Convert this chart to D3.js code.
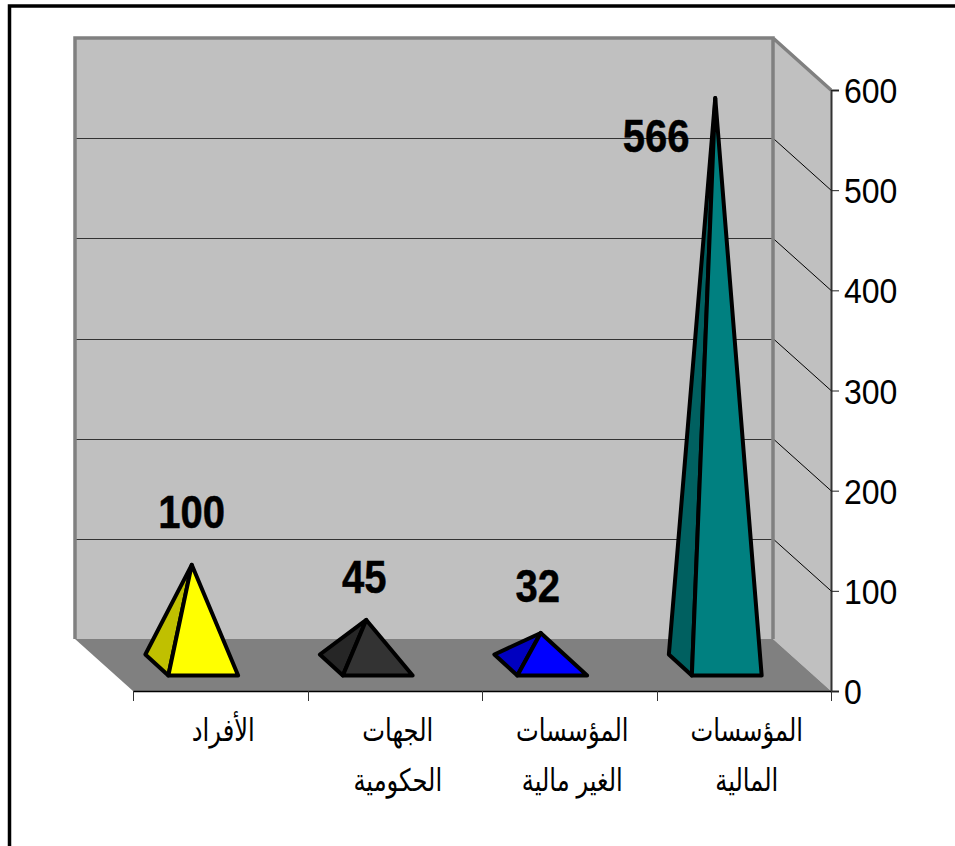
<!DOCTYPE html>
<html>
<head>
<meta charset="utf-8">
<script src="https://cdn.jsdelivr.net/npm/d3@7/dist/d3.min.js"></script>
<style>
    html, body { margin: 0; padding: 0; background: #fff; overflow: hidden; }
    svg { display: block; }
</style>
</head>
<body>
<svg id="chart" width="955" height="846"></svg>
<script>
// 数据
const categories = ["الأفراد", "الجهات الحكومية", "المؤسسات الغير مالية", "المؤسسات المالية"];
const categoryLines = [["الأفراد"], ["الجهات", "الحكومية"], ["المؤسسات", "الغير مالية"], ["المؤسسات", "المالية"]];
const values = [100, 45, 32, 566];
const yTicks = [0, 100, 200, 300, 400, 500, 600];
const frontColors = ["#ffff00", "#333333", "#0000ff", "#008080"];
const sideColors = ["#c0c000", "#262626", "#0000c0", "#006060"];

// 数值标签相对塔尖的偏移
const labelNudge = [[0, -37], [-2, -27], [-3, -31], [-59, 54]];

// 三维盒子的进深
const DEPTH_X = 58;
const DEPTH_Y = 52;
const LEFT = 133, RIGHT = 831, TOP = 90, BOTTOM = 691;

const svg = d3.select("#chart");

const x = d3.scaleBand().domain(categories).range([LEFT, RIGHT]);
const y = d3.scaleLinear().domain([0, 600]).range([BOTTOM, TOP]);

// 外框
svg.append("path")
    .attr("d", "M9.5,846V6H955")
    .attr("fill", "none")
    .attr("stroke", "#000")
    .attr("stroke-width", 3.5);

const poly = pts => pts.map(p => p.join(",")).join(" ");

// 后墙
svg.append("polygon")
    .attr("points", poly([[LEFT - DEPTH_X, TOP - DEPTH_Y], [RIGHT - DEPTH_X, TOP - DEPTH_Y], [RIGHT - DEPTH_X, BOTTOM - DEPTH_Y], [LEFT - DEPTH_X, BOTTOM - DEPTH_Y]]))
    .attr("fill", "#c0c0c0");

// 右侧墙
svg.append("polygon")
    .attr("points", poly([[RIGHT - DEPTH_X, TOP - DEPTH_Y], [RIGHT, TOP], [RIGHT, BOTTOM], [RIGHT - DEPTH_X, BOTTOM - DEPTH_Y]]))
    .attr("fill", "#c0c0c0");

// 地板
svg.append("polygon")
    .attr("points", poly([[LEFT - DEPTH_X, BOTTOM - DEPTH_Y], [RIGHT - DEPTH_X, BOTTOM - DEPTH_Y], [RIGHT, BOTTOM], [LEFT, BOTTOM]]))
    .attr("fill", "#808080");

// 网格线：后墙 + 侧墙
const gridTicks = yTicks.filter(t => t > 0 && t < 600);
svg.append("g").selectAll("line")
    .data(gridTicks)
    .join("line")
    .attr("x1", LEFT - DEPTH_X)
    .attr("x2", RIGHT - DEPTH_X)
    .attr("y1", d => Math.round(y(d)) - DEPTH_Y + 0.5)
    .attr("y2", d => Math.round(y(d)) - DEPTH_Y + 0.5)
    .attr("stroke", "#333")
    .attr("stroke-width", 1);
svg.append("g").selectAll("line")
    .data(gridTicks)
    .join("line")
    .attr("x1", RIGHT - DEPTH_X)
    .attr("x2", RIGHT)
    .attr("y1", d => y(d) - DEPTH_Y)
    .attr("y2", d => y(d))
    .attr("stroke", "#000")
    .attr("stroke-width", 1);

// 墙的灰色边线
svg.append("path")
    .attr("d", `M${LEFT - DEPTH_X},${BOTTOM - DEPTH_Y}V${TOP - DEPTH_Y}H${RIGHT - DEPTH_X}V${BOTTOM - DEPTH_Y}M${RIGHT - DEPTH_X},${TOP - DEPTH_Y}L${RIGHT},${TOP}`)
    .attr("fill", "none")
    .attr("stroke", "#808080")
    .attr("stroke-width", 3.5);

// y 轴
const yAxis = svg.append("g")
    .attr("transform", `translate(${RIGHT},0)`)
    .call(d3.axisRight(y).tickValues(yTicks).tickSize(8).tickFormat(d3.format("d")));
yAxis.select(".domain").attr("stroke", "#333").attr("stroke-width", 2);
yAxis.selectAll(".tick line").attr("stroke", "#222");
yAxis.selectAll(".tick text")
    .attr("x", 0)
    .attr("dy", "0.35em")
    .attr("transform", "translate(13,0) scale(0.89,1)")
    .attr("font-family", "'Liberation Sans', Arial, sans-serif")
    .attr("font-size", 36)
    .attr("fill", "#000");

// x 轴：分类名分两行，刻度在分类之间
const xAxis = svg.append("g")
    .attr("transform", `translate(0,${BOTTOM})`)
    .call(d3.axisBottom(x).tickSize(0).tickSizeOuter(0));
xAxis.select(".domain").attr("stroke", "#000").attr("stroke-width", 1.5);
xAxis.selectAll(".tick text").each(function (d, i) {
    const text = d3.select(this)
        .text(null)
        .attr("y", 0)
        .attr("dy", null)
        .attr("text-anchor", "middle")
        .attr("transform", "translate(3,0) scale(0.78,1)")
        .attr("font-family", "'Liberation Sans', Arial, 'DejaVu Sans', sans-serif")
        .attr("font-size", 31)
        .attr("fill", "#000");
    categoryLines[i].forEach((line, k) => {
        text.append("tspan")
            .attr("x", 0)
            .attr("y", 50 + k * 50)
            .text(line);
    });
});
svg.append("g").selectAll("line")
    .data(d3.range(categories.length + 1))
    .join("line")
    .attr("x1", i => Math.round(LEFT + i * x.step()) + 0.5)
    .attr("x2", i => Math.round(LEFT + i * x.step()) + 0.5)
    .attr("y1", BOTTOM)
    .attr("y2", BOTTOM + 10)
    .attr("stroke", "#333")
    .attr("stroke-width", 1);

// 棱锥
const baseHalfW = x.step() * 0.2;
const halfDepthX = 11.5, halfDepthY = 10.5;
const centerX = d => x(d) + x.bandwidth() / 2 - DEPTH_X / 2 + 0.5;
const centerY = BOTTOM - DEPTH_Y / 2;

const pyramids = svg.append("g").selectAll("g")
    .data(categories)
    .join("g")
    .attr("stroke", "#000")
    .attr("stroke-width", 4)
    .attr("stroke-linejoin", "round");

const apex = (d, i) => [centerX(d), centerY - (BOTTOM - y(values[i]))];

pyramids.append("polygon")
    .attr("points", (d, i) => poly([
        [centerX(d) - baseHalfW - halfDepthX, centerY - halfDepthY],
        [centerX(d) - baseHalfW + halfDepthX, centerY + halfDepthY],
        apex(d, i)
    ]))
    .attr("fill", (d, i) => sideColors[i]);

pyramids.append("polygon")
    .attr("points", (d, i) => poly([
        [centerX(d) - baseHalfW + halfDepthX, centerY + halfDepthY],
        [centerX(d) + baseHalfW + halfDepthX, centerY + halfDepthY],
        apex(d, i)
    ]))
    .attr("fill", (d, i) => frontColors[i]);

// 数值标签
svg.append("g").selectAll("text")
    .data(categories)
    .join("text")
    .attr("text-anchor", "middle")
    .attr("transform", (d, i) => {
        const [ax, ay] = apex(d, i);
        return `translate(${ax + labelNudge[i][0]},${ay + labelNudge[i][1]}) scale(0.87,1)`;
    })
    .attr("font-family", "'Liberation Sans', Arial, sans-serif")
    .attr("font-weight", "bold")
    .attr("font-size", 46)
    .attr("fill", "#000")
    .attr("stroke", "#000")
    .attr("stroke-width", 0.5)
    .text((d, i) => values[i]);
</script>
</body>
</html>
